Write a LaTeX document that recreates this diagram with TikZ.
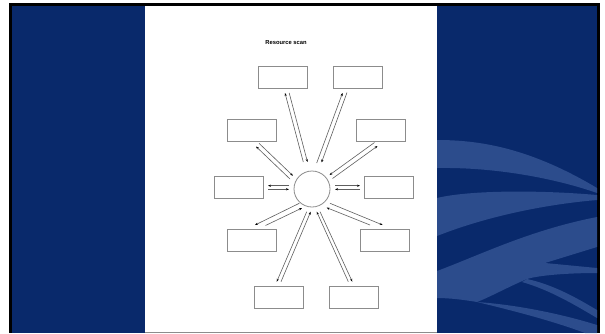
\documentclass[tikz,border=0pt]{standalone}
\usepackage{fontspec}
\setmainfont{Liberation Sans}
\usetikzlibrary{arrows.meta}
\definecolor{navy}{RGB}{9,41,107}
\definecolor{swoosh}{RGB}{44,76,140}
\definecolor{boxgray}{RGB}{140,140,140}
\definecolor{linegray}{RGB}{95,95,95}
\tikzset{
  bx/.style={draw=boxgray, line width=0.8pt, minimum width=49pt, minimum height=22pt, inner sep=0pt, fill=white},
  hub/.style={circle, draw=boxgray, line width=0.8pt, minimum size=36pt, inner sep=0pt},
  arr/.style={draw=linegray, line width=0.6pt, -{Stealth[length=3pt,width=2.2pt,black]}},
  sw/.style={fill=swoosh, draw=none}
}
\begin{document}
\begin{tikzpicture}[x=1pt,y=-1pt]
\useasboundingbox (0,0) rectangle (605,333);
\fill[white] (0,0) rectangle (605,333);
\fill[black] (9,3) rectangle (600,333);
\fill[navy] (12,6) rectangle (597,333);
% swooshes
\fill[sw] (437,140) .. controls (480,140) and (530,148) .. (597,188) -- (597,193) .. controls (560,180) and (500,167) .. (437,168) -- cycle;
\fill[sw] (437,198) .. controls (470,190) and (540,190) .. (597,195) -- (597,200) .. controls (550,204) and (490,215) .. (437,236) -- cycle;
\fill[sw] (437,271) .. controls (480,255) and (530,230) .. (597,217) -- (597,247) -- (545,263) -- (597,268) -- (597,273) .. controls (570,273) and (540,275) .. (527,279) .. controls (510,286) and (490,297) .. (477,302) .. controls (465,300) and (450,298) .. (437,298) -- cycle;
\fill[sw] (527,279) .. controls (555,285) and (580,300) .. (597,310) -- (597,318) .. controls (575,305) and (550,290) .. (522,282) -- cycle;
\fill[sw] (477,302) .. controls (520,305) and (565,315) .. (597,325) -- (597,333) -- (585,333) .. controls (550,320) and (510,310) .. (477,302) -- cycle;
% page
\fill[white] (145,6) rectangle (437,331.5);
\draw[boxgray, line width=1pt] (145,332.3) -- (437,332.3);
% title
\node[font=\fontsize{5.8}{7}\selectfont\bfseries] (title) at (286,42.5) {Resource scan};
% nodes
\node[hub] (c) at (312,189) {};
\node[bx] (tl) at (283,77) {};
\node[bx] (tr) at (358,77) {};
\node[bx] (l2) at (252,130) {};
\node[bx] (r2) at (380.7,130) {};
\node[bx] (l3) at (238.7,187.8) {};
\node[bx] (r3) at (389.3,187.8) {};
\node[bx] (l4) at (252,240.5) {};
\node[bx] (r4) at (385,240.5) {};
\node[bx] (l5) at (278.7,297.8) {};
\node[bx] (r5) at (354,297.8) {};
% connectors
\draw[arr] ([shift={(-8.7,-27)}]c.center) -- ([shift={(2,16)}]tl.center);
\draw[arr] ([shift={(6.2,16)}]tl.center) -- ([shift={(-4.5,-27)}]c.center);
\draw[arr] ([shift={(4.7,-26)}]c.center) -- ([shift={(-15.5,16)}]tr.center);
\draw[arr] ([shift={(-11,15.5)}]tr.center) -- ([shift={(9.5,-26.5)}]c.center);
\draw[arr] ([shift={(-22,-10)}]c.center) -- ([shift={(4,16.5)}]l2.center);
\draw[arr] ([shift={(7,13.3)}]l2.center) -- ([shift={(-19,-13.2)}]c.center);
\draw[arr] ([shift={(20.5,-10.5)}]c.center) -- ([shift={(-3.2,16)}]r2.center);
\draw[arr] ([shift={(-6.2,12.5)}]r2.center) -- ([shift={(17.5,-14)}]c.center);
\draw[arr] ([shift={(-23,-3.3)}]c.center) -- ([shift={(29.3,-2.1)}]l3.center);
\draw[arr] ([shift={(29.3,1.5)}]l3.center) -- ([shift={(-23,0.3)}]c.center);
\draw[arr] ([shift={(23,-3.3)}]c.center) -- ([shift={(-29.3,-2.1)}]r3.center);
\draw[arr] ([shift={(-29.3,1.5)}]r3.center) -- ([shift={(23,0.3)}]c.center);
\draw[arr] ([shift={(-12.7,14.3)}]c.center) -- ([shift={(3,-15.5)}]l4.center);
\draw[arr] ([shift={(13.5,-15)}]l4.center) -- ([shift={(-10,19)}]c.center);
\draw[arr] ([shift={(18,14.3)}]c.center) -- ([shift={(-2.3,-15.5)}]r4.center);
\draw[arr] ([shift={(-15,-15.5)}]r4.center) -- ([shift={(14.7,18.7)}]c.center);
\draw[arr] ([shift={(-5.3,22.7)}]c.center) -- ([shift={(-2,-16.1)}]l5.center);
\draw[arr] ([shift={(2.3,-16.1)}]l5.center) -- ([shift={(-1.3,22.7)}]c.center);
\draw[arr] ([shift={(8,22.7)}]c.center) -- ([shift={(-1.7,-16.1)}]r5.center);
\draw[arr] ([shift={(-5.7,-16.1)}]r5.center) -- ([shift={(4.7,22.7)}]c.center);
\end{tikzpicture}
\end{document}
